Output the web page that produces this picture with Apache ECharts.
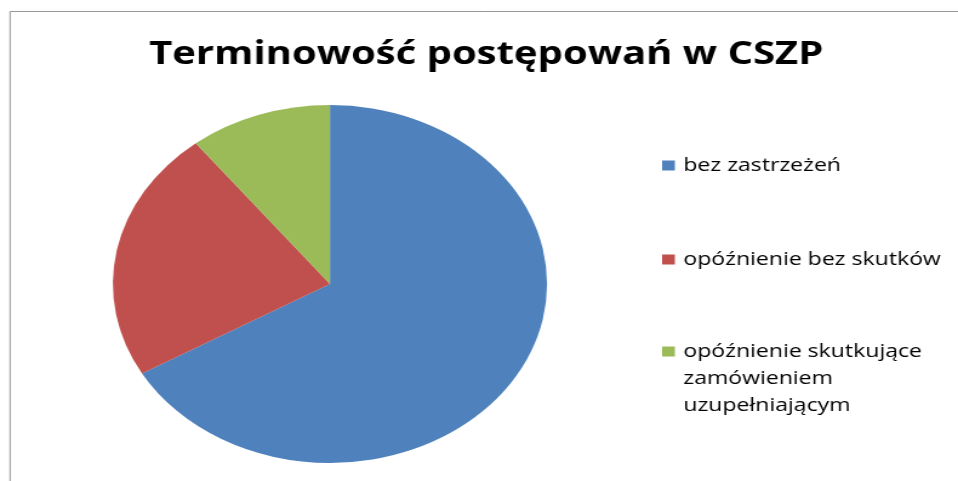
<!DOCTYPE html>
<html>
<head>
<meta charset="utf-8">
<script src="https://cdn.jsdelivr.net/npm/echarts@6/dist/echarts.min.js"></script>
<style>
  html, body { margin: 0; padding: 0; background: #fff; overflow: hidden; }
  /* wykres w oryginale jest rozciągnięty w poziomie, więc skalujemy cały kontener */
  #chart {
    width: 790px;
    height: 481px;
    transform: scaleX(1.21266);
    transform-origin: 0 0;
  }
</style>
</head>
<body>
<div id="chart"></div>
<script>
// dane
const categories = ["bez zastrzeżeń", "opóźnienie bez skutków", "opóźnienie skutkujące zamówieniem uzupełniającym"];
const values = [44, 15, 7];
const colors = ["#4F81BD", "#C0504D", "#9BBB59"];
const titleText = "Terminowość postępowań w CSZP";

// etykieta ostatniej pozycji w legendzie łamana na 3 linie
const legendLabels = {};
legendLabels[categories[2]] = "opóźnienie skutkujące\nzamówieniem\nuzupełniającym";

let chart = echarts.init(document.getElementById("chart"));

const legendText = {
  fontFamily: "Open Sans",
  fontSize: 19,
  lineHeight: 27,
  color: "#000",
  padding: [0, 0, 0, 2]
};

chart.setOption({
  animation: false,
  backgroundColor: "#fff",
  title: {
    text: titleText,
    left: 123,
    top: 38,
    padding: 0,
    textStyle: {
      fontFamily: "Open Sans",
      fontWeight: "bold",
      fontSize: 33,
      color: "#000"
    }
  },
  legend: [
    {
      // pierwsze dwie pozycje
      data: categories.slice(0, 2),
      orient: "vertical",
      left: 546,
      top: 152,
      padding: 0,
      itemGap: 67,
      itemWidth: 10.5,
      itemHeight: 10,
      icon: "rect",
      selectedMode: false,
      textStyle: legendText
    },
    {
      // trzecia pozycja - kwadrat wyrównany do pierwszej linii tekstu
      data: [{
        name: categories[2],
        icon: "path://M0 0L10.5 0L10.5 10L0 10Z M0 64L0 64"
      }],
      orient: "vertical",
      left: 546,
      top: 338,
      padding: 0,
      itemWidth: 10.5,
      itemHeight: 64,
      selectedMode: false,
      formatter: function (name) {
        return legendLabels[name] || name;
      },
      textStyle: legendText
    }
  ],
  color: colors,
  series: [
    {
      type: "pie",
      center: [272.1, 284],
      radius: 179,
      startAngle: 90,
      clockwise: true,
      silent: true,
      label: { show: false },
      labelLine: { show: false },
      itemStyle: { borderWidth: 0 },
      data: categories.map(function (c, i) {
        return { name: c, value: values[i] };
      })
    }
  ],
  // ramka (lewa i górna krawędź)
  graphic: [
    {
      type: "polyline",
      silent: true,
      shape: { points: [[8.3, 481], [8.3, 11.5], [790, 11.5]] },
      style: { stroke: "#8c8c8c", lineWidth: 0.9, fill: null }
    }
  ]
});
</script>
</body>
</html>
